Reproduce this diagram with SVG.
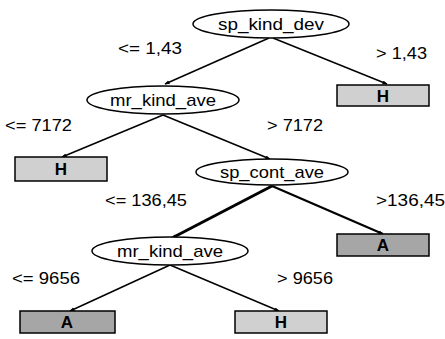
<svg xmlns="http://www.w3.org/2000/svg" width="445" height="339" viewBox="0 0 445 339">
<style>
text{font-family:"Liberation Sans",Arial,sans-serif;font-size:17px;fill:#000}
.n{fill:#fff;stroke:#000;stroke-width:1.5}
.lh{fill:#d0d0d0;stroke:#000;stroke-width:1.5}
.la{fill:#a6a6a6;stroke:#000;stroke-width:1.5}
.e{stroke:#000;stroke-width:1.5;fill:none;marker-end:url(#ah)}
.t{text-anchor:middle}
.b{font-weight:bold}
</style>
<defs>
<marker id="ah" viewBox="0 0 10 10" refX="9" refY="5" markerWidth="5" markerHeight="5" orient="auto" markerUnits="userSpaceOnUse">
<path d="M0,1 L10,5 L0,9 z" fill="#000"/>
</marker>
</defs>
<g id="connectors">
<line class="e" x1="269" y1="38" x2="165" y2="84"/>
<line class="e" x1="273" y1="38" x2="387" y2="84"/>
<line class="e" x1="163" y1="115" x2="62" y2="157"/>
<line class="e" x1="163" y1="115" x2="270" y2="159"/>
<line class="e" x1="272" y1="186" x2="172" y2="238" style="stroke-width:3"/>
<line class="e" x1="272" y1="186" x2="383" y2="234" style="stroke-width:2.2"/>
<line class="e" x1="170" y1="265" x2="70" y2="311"/>
<line class="e" x1="170" y1="265" x2="279" y2="311"/>
</g>
<g id="labels">
<text x="118" y="54" textLength="64" lengthAdjust="spacingAndGlyphs">&lt;= 1,43</text>
<text x="376" y="59" textLength="51" lengthAdjust="spacingAndGlyphs">&gt; 1,43</text>
<text x="5" y="131" textLength="67" lengthAdjust="spacingAndGlyphs">&lt;= 7172</text>
<text x="267" y="131" textLength="56" lengthAdjust="spacingAndGlyphs">&gt; 7172</text>
<text x="105" y="206" textLength="82" lengthAdjust="spacingAndGlyphs">&lt;= 136,45</text>
<text x="376" y="206" textLength="69" lengthAdjust="spacingAndGlyphs">&gt;136,45</text>
<text x="12" y="284" textLength="68" lengthAdjust="spacingAndGlyphs">&lt;= 9656</text>
<text x="277" y="284" textLength="56" lengthAdjust="spacingAndGlyphs">&gt; 9656</text>
</g>
<g id="n_sp_kind_dev">
<ellipse class="n" cx="271" cy="24" rx="78" ry="14"/>
<text class="t" x="271" y="30" textLength="106" lengthAdjust="spacingAndGlyphs">sp_kind_dev</text>
</g>
<g id="n_mr_kind_ave1">
<ellipse class="n" cx="163" cy="100" rx="76" ry="14"/>
<text class="t" x="163" y="106" textLength="106" lengthAdjust="spacingAndGlyphs">mr_kind_ave</text>
</g>
<g id="n_sp_cont_ave">
<ellipse class="n" cx="272" cy="172" rx="76" ry="13"/>
<text class="t" x="272" y="178" textLength="104" lengthAdjust="spacingAndGlyphs">sp_cont_ave</text>
</g>
<g id="n_mr_kind_ave2">
<ellipse class="n" cx="170" cy="251" rx="78" ry="14"/>
<text class="t" x="170" y="257" textLength="106" lengthAdjust="spacingAndGlyphs">mr_kind_ave</text>
</g>
<g id="leaf_H1">
<rect class="lh" x="337" y="85" width="92" height="21"/>
<text class="t b" x="383" y="102">H</text>
</g>
<g id="leaf_H2">
<rect class="lh" x="15" y="157" width="92" height="24"/>
<text class="t b" x="61" y="175">H</text>
</g>
<g id="leaf_A1">
<rect class="la" x="337" y="234" width="92" height="22"/>
<text class="t b" x="383" y="251">A</text>
</g>
<g id="leaf_A2">
<rect class="la" x="20" y="311" width="95" height="22"/>
<text class="t b" x="67" y="328">A</text>
</g>
<g id="leaf_H3">
<rect class="lh" x="235" y="311" width="92" height="22"/>
<text class="t b" x="281" y="328">H</text>
</g>
</svg>
